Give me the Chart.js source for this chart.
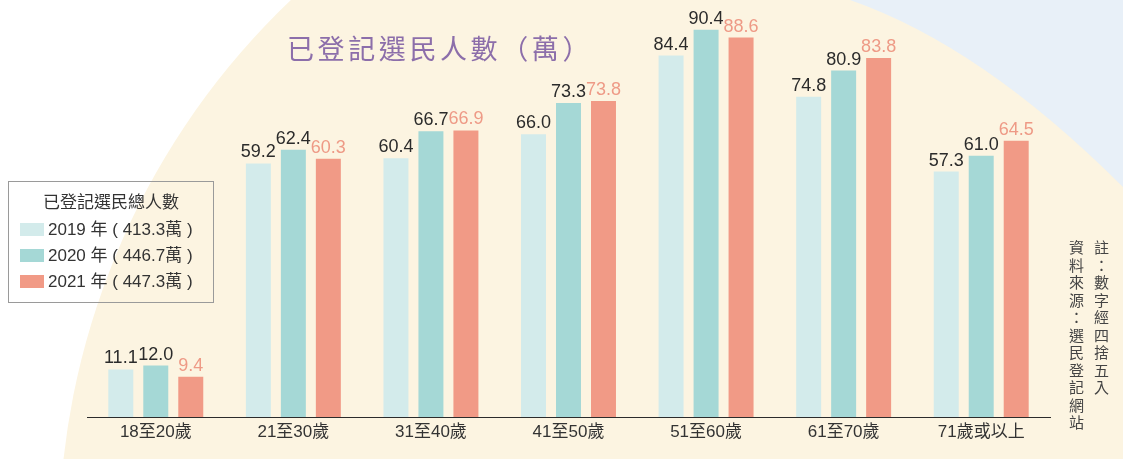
<!DOCTYPE html>
<html>
<head>
<meta charset="utf-8">
<script src="https://cdn.jsdelivr.net/npm/chart.js@4"></script>
<style>
  html, body { margin: 0; padding: 0; background: #fff; }
  #wrap { position: relative; width: 1123px; height: 459px; overflow: hidden; }
  #chart { position: absolute; left: 0; top: 0; }
  .txt { font-family: "Liberation Sans", "Noto Sans CJK TC", sans-serif; color: #333; }
  #title {
    position: absolute; left: 287px; top: 30px;
    font-family: "Noto Sans CJK TC", sans-serif; font-size: 27px; letter-spacing: 3.6px;
    color: #8c6eaa; white-space: nowrap; line-height: 36px;
  }
  #legend {
    position: absolute; left: 8px; top: 181px; width: 206px; height: 122px;
    border: 1px solid #9a9a9a; box-sizing: border-box;
  }
  #legend .head { position: absolute; left: 0; width: 100%; top: 8px; text-align: center; font-size: 17px; line-height: 22px; font-family: "Noto Sans CJK TC", sans-serif; }
  #legend .item { position: absolute; left: 11px; font-size: 17px; line-height: 22px; white-space: nowrap; }
  #legend .sw { display: inline-block; width: 24px; height: 13px; vertical-align: -1px; margin-right: 4px; }
  .note {
    position: absolute; top: 240px; writing-mode: vertical-rl; text-orientation: upright;
    font-family: "Noto Sans CJK TC", sans-serif; font-size: 15px; letter-spacing: 2.5px; color: #444; line-height: 18px;
  }
</style>
</head>
<body>
<div id="wrap">
  <canvas id="chart" width="1123" height="459"></canvas>
  <div id="title">已登記選民人數（萬）</div>
  <div id="legend" class="txt"></div>
  <div class="note" style="left:1092px">註：數字經四捨五入</div>
  <div class="note" style="left:1067px">資料來源：選民登記網站</div>
</div>
<script>
const categories = ['18至20歲', '21至30歲', '31至40歲', '41至50歲', '51至60歲', '61至70歲', '71歲或以上'];
const years = ['2019', '2020', '2021'];
const totals = [413.3, 446.7, 447.3];
const votes2019 = [11.1, 59.2, 60.4, 66.0, 84.4, 74.8, 57.3];
const votes2020 = [12.0, 62.4, 66.7, 73.3, 90.4, 80.9, 61.0];
const votes2021 = [9.4, 60.3, 66.9, 73.8, 88.6, 83.8, 64.5];
const legendTitle = '已登記選民總人數';

const barColors = ['#d3ebeb', '#a5d8d6', '#f19a86'];
const labelColors = ['#2b2b2b', '#2b2b2b', '#ee9a86'];

// background shapes behind the bars
const bgPlugin = {
    id: 'bg',
    beforeDraw(chart) {
        const ctx = chart.ctx;
        ctx.save();
        ctx.fillStyle = '#ffffff';
        ctx.fillRect(0, 0, chart.width, chart.height);
        // big cream circle
        ctx.fillStyle = '#fcf4e1';
        ctx.beginPath();
        ctx.arc(806, 541, 747, 0, Math.PI * 2);
        ctx.fill();
        // light blue corner top right
        ctx.fillStyle = '#e8f0f8';
        ctx.beginPath();
        ctx.moveTo(850, 0);
        ctx.quadraticCurveTo(982, 46, 1123, 187);
        ctx.lineTo(1123, 0);
        ctx.closePath();
        ctx.fill();
        ctx.restore();
    }
};

// value labels above each bar
const valuePlugin = {
    id: 'values',
    afterDatasetsDraw(chart) {
        const ctx = chart.ctx;
        ctx.save();
        ctx.font = '18px "Liberation Sans", sans-serif';
        ctx.textAlign = 'center';
        ctx.textBaseline = 'bottom';
        chart.data.datasets.forEach((ds, i) => {
            const meta = chart.getDatasetMeta(i);
            ctx.fillStyle = labelColors[i];
            meta.data.forEach((bar, j) => {
                ctx.fillText(ds.data[j].toFixed(1), bar.x, bar.y - 2);
            });
        });
        ctx.restore();
    }
};

const ctx = document.getElementById('chart').getContext('2d');
const chart = new Chart(ctx, {
    type: 'bar',
    data: {
        labels: categories,
        datasets: [votes2019, votes2020, votes2021].map((d, i) => ({
            label: years[i],
            data: d,
            backgroundColor: barColors[i],
            categoryPercentage: 0.763,
            barPercentage: 0.714
        }))
    },
    options: {
        responsive: false,
        animation: false,
        layout: { padding: { top: 23, left: 87, right: 73, bottom: 0 } },
        plugins: { legend: { display: false }, tooltip: { enabled: false } },
        scales: {
            x: {
                grid: { display: false, drawTicks: false },
                border: { color: '#2b2b2b', width: 1 },
                ticks: {
                    color: '#333',
                    padding: 5,
                    font: { size: 17, family: '"Liberation Sans", "Noto Sans CJK TC", sans-serif' }
                },
                afterFit(scale) { scale.height = 42; }
            },
            y: { display: false, min: 0, max: 92 }
        }
    },
    plugins: [bgPlugin, valuePlugin]
});

// legend box
const legend = document.getElementById('legend');
let html = '<div class="head">' + legendTitle + '</div>';
years.forEach((y, i) => {
    html += '<div class="item" style="top:' + (37 + i * 26) + 'px"><span class="sw" style="background:' + barColors[i] + '"></span>' +
        y + ' 年 ( ' + totals[i].toFixed(1) + '萬 )</div>';
});
legend.innerHTML = html;
</script>
</body>
</html>
